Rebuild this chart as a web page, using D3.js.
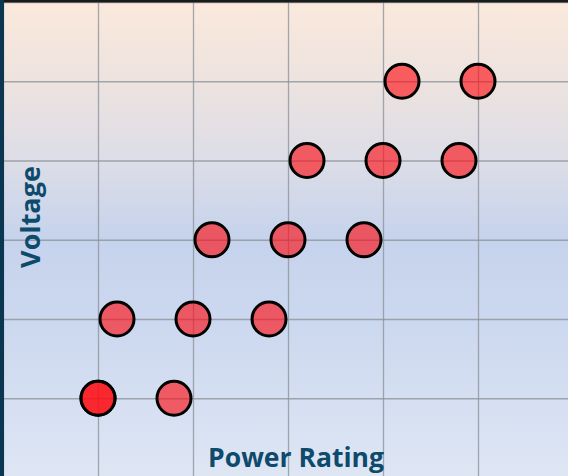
<!DOCTYPE html>
<html><head><meta charset="utf-8">
<script src="https://cdn.jsdelivr.net/npm/d3@7"></script>
<style>html,body{margin:0;padding:0;background:#fff;overflow:hidden}</style>
</head><body>
<script>
// Data (power rating, voltage); the point at (1,1) appears twice (overlap gives brighter red)
const powerRating = [1.0, 1.0, 1.8, 1.2, 2.0, 2.8, 2.2, 3.0, 3.8, 3.2, 4.0, 4.8, 4.2, 5.0];
const voltage     = [1,   1,   1,   2,   2,   2,   3,   3,   3,   4,   4,   4,   5,   5];
const xTicks = [0, 1, 2, 3, 4, 5, 6];
const yTicks = [0, 1, 2, 3, 4, 5, 6];

const W = 568, H = 476;
const svg = d3.select("body").append("svg").attr("width", W).attr("height", H);
const defs = svg.append("defs");
const g = defs.append("linearGradient").attr("id","bg").attr("x1",0).attr("y1",0).attr("x2",0).attr("y2",1);
[[0,"#fbe9dc"],[0.17,"#ede3df"],[0.34,"#dcdde7"],[0.5,"#c6d3ec"],[0.68,"#ccd8ef"],[1,"#dee6f4"]]
  .forEach(([o,c]) => g.append("stop").attr("offset",o).attr("stop-color",c));

const x = d3.scaleLinear().domain([0, 6]).range([3, 573]);
const y = d3.scaleLinear().domain([0, 6]).range([477.5, 2]);

svg.append("rect").attr("x",0).attr("y",0).attr("width",W).attr("height",H).attr("fill","url(#bg)");

// gridlines
svg.append("g").attr("transform",`translate(0,${H})`)
  .call(d3.axisBottom(x).tickValues(xTicks).tickSize(-H).tickFormat(""))
  .call(a => a.select(".domain").remove())
  .call(a => a.selectAll("line").attr("stroke","#8f949c").attr("stroke-opacity",0.8).attr("stroke-width",1.3));
svg.append("g").attr("transform","translate(0,0)")
  .call(d3.axisLeft(y).tickValues(yTicks).tickSize(-W).tickFormat(""))
  .call(a => a.select(".domain").remove())
  .call(a => a.selectAll("line").attr("stroke","#8f949c").attr("stroke-opacity",0.8).attr("stroke-width",1.3));

// points
svg.append("g").selectAll("circle").data(powerRating.map((p,i)=>({p, v: voltage[i]})))
  .join("circle")
  .attr("cx", d => x(d.p)).attr("cy", d => y(d.v)).attr("r", 17)
  .attr("fill", "rgba(255,10,15,0.62)")
  .attr("stroke", "#000").attr("stroke-width", 3);

// borders
svg.append("rect").attr("x",0).attr("y",0).attr("width",W).attr("height",2.5).attr("fill","#1a1a1a");
svg.append("rect").attr("x",0).attr("y",0).attr("width",4).attr("height",H).attr("fill","#0b3651");

// titles
svg.append("text").attr("x", 296).attr("y", 467).attr("text-anchor","middle")
  .attr("font-family","'Open Sans', 'Liberation Sans', sans-serif").attr("font-weight","bold")
  .attr("font-size", 26.5).attr("fill","#0d4a6b").text("Power Rating");
svg.append("text").attr("transform","translate(40,217) rotate(-90)").attr("text-anchor","middle")
  .attr("font-family","'Open Sans', 'Liberation Sans', sans-serif").attr("font-weight","bold")
  .attr("font-size", 27).attr("fill","#0d4a6b").text("Voltage");
</script>
</body></html>
